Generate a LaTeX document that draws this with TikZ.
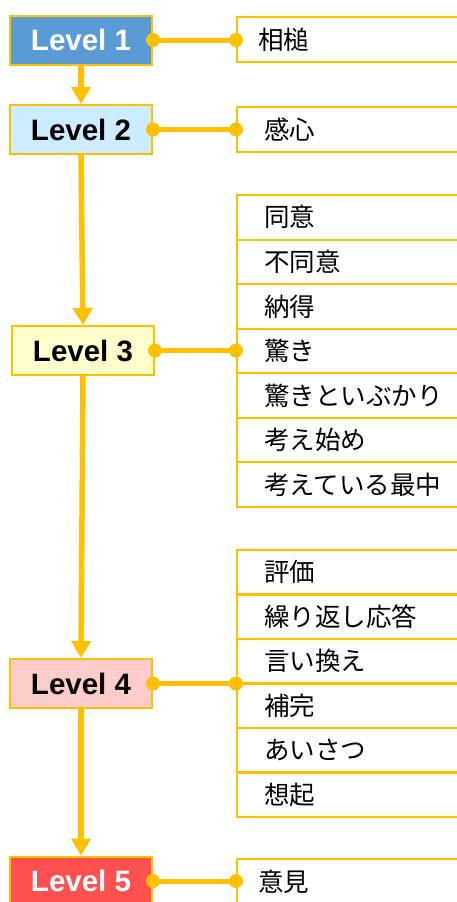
\documentclass[tikz,border=0pt]{standalone}
\usepackage{fontspec}
\setmainfont{Liberation Sans}
\newfontfamily\jpfont{Noto Sans CJK JP}
\usetikzlibrary{arrows.meta}

\definecolor{linecol}{HTML}{FFC000}
\definecolor{lvlA}{HTML}{5B9BD5}
\definecolor{lvlB}{HTML}{CCECFF}
\definecolor{lvlC}{HTML}{FFFFCC}
\definecolor{lvlD}{HTML}{FFCCCC}
\definecolor{lvlE}{HTML}{FF5050}

\tikzset{
  lvl/.style={draw=linecol, line width=2pt, minimum width=142pt, minimum height=49pt,
    inner sep=0pt, font=\fontsize{29.5}{30}\selectfont\bfseries},
  item/.style={draw=linecol, line width=2pt, anchor=west, minimum height=44.6pt,
    text width=190pt, inner xsep=27pt, align=left, font=\jpfont\fontsize{25.5}{30}\selectfont},
  flow/.style={linecol, line width=5.5pt, -{Triangle[width=19pt,length=17pt]}},
  link/.style={linecol, line width=5pt}
}

\begin{document}
\begin{tikzpicture}[x=1pt,y=-1pt]
    \useasboundingbox (0,0) rectangle (457,902);

    % levels
    \node[lvl, fill=lvlA, text=white] (L1) at (81,40) {Level 1};
    \node[lvl, fill=lvlB] (L2) at (81,129.5) {Level 2};
    \node[lvl, fill=lvlC] (L3) at (83,350.5) {Level 3};
    \node[lvl, fill=lvlD] (L4) at (81,683.5) {Level 4};
    \node[lvl, fill=lvlE, text=white] (L5) at (81,881) {Level 5};

    % items
    \node[item, inner xsep=21pt, minimum height=45pt] (r1) at (236,39.5) {\raisebox{-1.5pt}{相槌}};
    \node[item, minimum height=45pt] (r2) at (236,129.5) {\raisebox{-1.5pt}{感心}};
    \node[item, inner xsep=21pt, minimum height=45pt] (r5) at (236,881.5) {\raisebox{-1.5pt}{意見}};

    \foreach \t [count=\i] in {同意,不同意,納得,驚き,驚きといぶかり,考え始め,考えている最中} {
        \node[item] (a\i) at (236,{195+44.57*(\i-0.5)}) {\raisebox{-1.5pt}{\t}};
    }
    \foreach \t [count=\i] in {評価,繰り返し応答,言い換え,補完,あいさつ,想起} {
        \node[item] (b\i) at (236,{550+44.5*(\i-0.5)}) {\raisebox{-1.5pt}{\t}};
    }

    % arrows down
    \draw[flow] (L1.south) -- (L2.north);
    \draw[flow] (L2.south) -- (L3.north);
    \draw[flow] (L3.south) -- (L4.north);
    \draw[flow] (L4.south) -- (L5.north);

    % links to the lists
    \foreach \a/\b in {L1/r1.west, L2/r2.west, L3/a4.west, L4/b3.south west, L5/r5.west} {
        \draw[link] (\a.east) -- (\a.east -| \b);
        \fill[linecol] (\a.east) circle (7pt) (\a.east -| \b) circle (7pt);
    }
\end{tikzpicture}
\end{document}
